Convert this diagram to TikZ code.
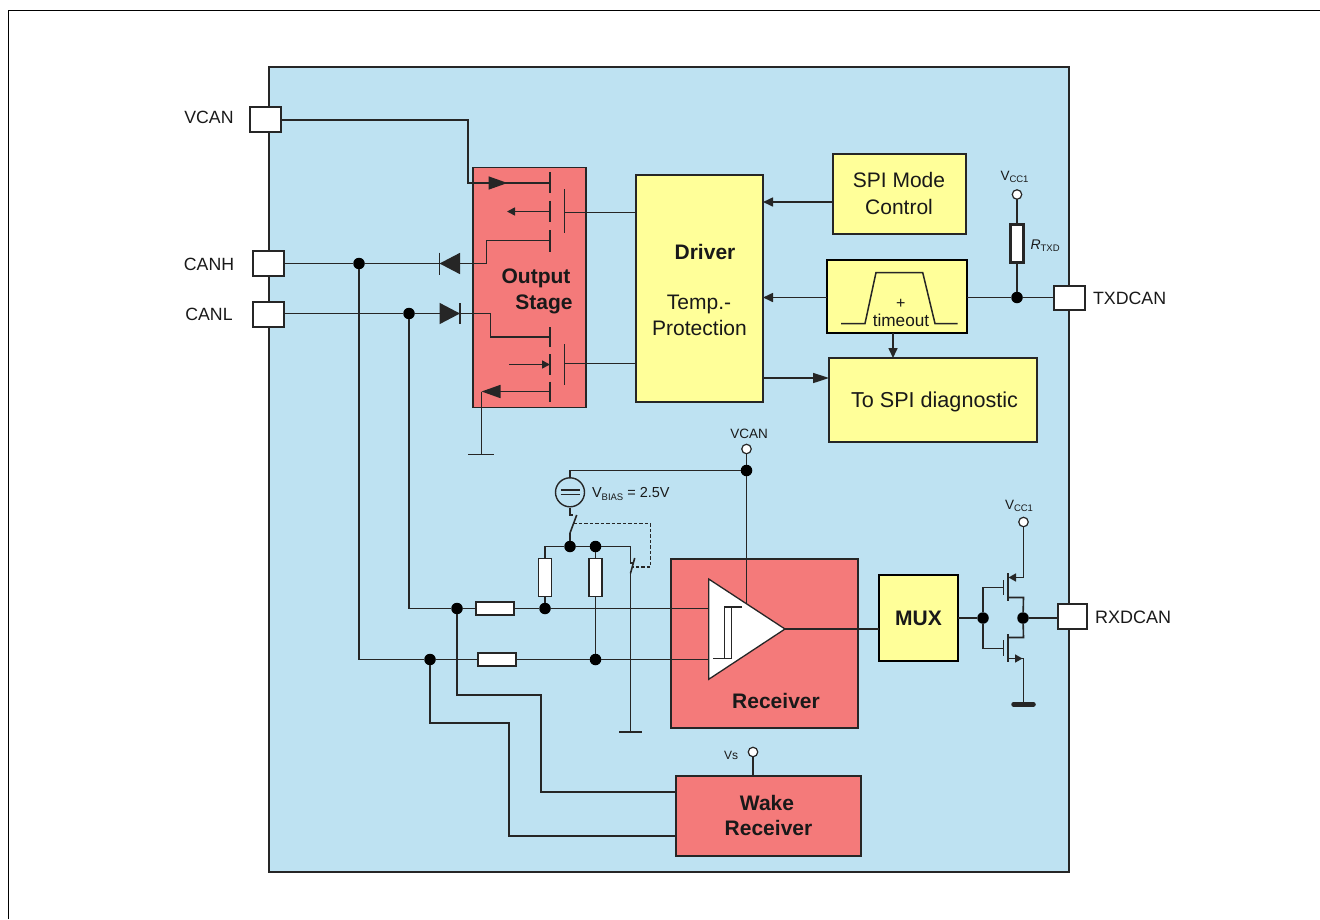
\documentclass[tikz,border=0pt]{standalone}
\usepackage{fontspec}
\setmainfont{Liberation Sans}
\usetikzlibrary{arrows.meta}
\definecolor{bluebg}{HTML}{BEE2F2}
\definecolor{redbox}{HTML}{F47A7A}
\definecolor{yelbox}{HTML}{FFFF99}
\definecolor{ink}{HTML}{262626}
\newcommand{\fs}[1]{\fontsize{#1}{#1}\selectfont}
\newcommand{\lowtxt}[1]{\raisebox{-0.15em}{\fs{9.5}#1}}
\tikzset{
  rectbox/.style={draw=ink,line width=1.3pt,inner sep=0pt,outer sep=0pt,align=center,text=ink},
  redb/.style={rectbox,fill=redbox},
  yelb/.style={rectbox,fill=yelbox},
  heavyb/.style={fill=yelbox,draw=black,line width=2.5pt,inner sep=0pt,outer sep=0pt},
  pinbox/.style={rectbox,fill=white},
  resv/.style={rectbox,fill=white,minimum width=13pt,minimum height=38pt},
  resh/.style={rectbox,fill=white,minimum width=38pt,minimum height=13pt},
  dotn/.style={circle,fill=black,inner sep=0pt,outer sep=0pt,minimum size=11.5pt},
  openn/.style={circle,draw=ink,fill=white,line width=1.2pt,inner sep=0pt,outer sep=0pt,minimum size=9.5pt},
  wire/.style={draw=ink,line width=1.6pt},
  label/.style={text=black!90,inner sep=0pt,outer sep=0pt},
  bigtip/.style={-{Triangle[length=19pt,width=13pt]}},
  diotip/.style={-{Triangle[length=20.5pt,width=21pt]}},
  smalltip/.style={-{Triangle[length=8pt,width=8pt]}},
  midtip/.style={-{Triangle[length=8pt,width=8pt]}}
}
\begin{document}
\begin{tikzpicture}[x=1pt,y=-1pt]
\useasboundingbox (0,0) rectangle (1320,919);
\draw[black,line width=1.3pt] (8.5,919) -- (8.5,10.5) -- (1320,10.5);
\node[rectbox,fill=bluebg,minimum width=800pt,minimum height=805pt] (chip) at (669,469.5) {};

% boxes
\node[redb,line width=1.6pt,minimum width=113.5pt,minimum height=240pt] (out) at (529.5,287.5) {};
\node[yelb,minimum width=127pt,minimum height=227pt] (drv) at (699.5,288.5) {};
\node[yelb,minimum width=133pt,minimum height=80pt] (spi) at (899.5,194) {};
\node[heavyb,minimum width=140pt,minimum height=73pt] (tmo) at (897,296.5) {};
\node[yelb,minimum width=208pt,minimum height=84pt] (diag) at (933,400) {};
\node[redb,minimum width=187pt,minimum height=169pt] (rcv) at (764.5,643.5) {};
\node[heavyb,minimum width=79pt,minimum height=86pt] (mux) at (918.5,618) {};
\node[redb,minimum width=185pt,minimum height=80pt] (wake) at (768.5,816) {};

% pins
\node[pinbox,minimum width=31pt,minimum height=25pt] (pvcan) at (265.5,119.5) {};
\node[pinbox,minimum width=31pt,minimum height=25pt] (pcanh) at (268.5,263.5) {};
\node[pinbox,minimum width=31pt,minimum height=25pt] (pcanl) at (268.5,314.5) {};
\node[pinbox,minimum width=31pt,minimum height=24pt] (ptxd) at (1069.5,298) {};
\node[pinbox,minimum width=29pt,minimum height=25pt] (prxd) at (1072.5,616.5) {};

% junctions, terminals
\node[dotn] (jh) at (359,263.5) {};
\node[dotn] (jl) at (409,313.5) {};
\node[dotn] (ju) at (457,608.5) {};
\node[dotn] (jd) at (430,659.5) {};
\node[dotn] (jr1) at (545,608.5) {};
\node[dotn] (jr2) at (595.5,659.5) {};
\node[dotn] (jb1) at (570,546.5) {};
\node[dotn] (jb2) at (595.5,546.5) {};
\node[dotn] (jv) at (746.5,470.5) {};
\node[dotn] (jt) at (1017,297.5) {};
\node[dotn] (jg) at (983,618) {};
\node[dotn] (jo) at (1023,618) {};
\node[openn] (ovcan) at (746.5,449) {};
\node[openn] (ovcc) at (1017,194.5) {};
\node[openn] (ovcc2) at (1023.5,522) {};
\node[openn] (ovs) at (753,752) {};
\node[circle,draw=ink,fill=none,line width=1.4pt,inner sep=0pt,minimum size=29pt] (bias) at (570,492.3) {};

% free ends
\coordinate (a1) at (468,120);
\coordinate (a2) at (468,183);
\coordinate (a3) at (507.5,183);
\coordinate (t1) at (550,183);
\coordinate (t2) at (550,211.5);
\coordinate (a4) at (507,211.5);
\coordinate (t3) at (550,240.5);
\coordinate (g1) at (564.5,212.5);
\coordinate (g2) at (564.5,363.5);
\coordinate (t4) at (550,337);
\coordinate (t5) at (550,364.5);
\coordinate (a5) at (509,364.5);
\coordinate (t6) at (550,391.5);
\coordinate (a6) at (481.5,391.5);
\coordinate (gnd1) at (481.5,454.5);

% top connections
\draw[wire] (pvcan.east |- a1) -- (a1) -- (a2) -- (t1);
\draw[wire,bigtip] (a2) ++(20,0) -- (a3);
\draw[wire,smalltip] (t2) -- (a4);
\draw[wire] (pcanh.east |- jh) -- (jh) -- (439.5,263.5);
\draw[wire] (t3) -- (486.5,240.5) -- (486.5,263.5) -- (460,263.5);
\draw[wire,diotip] (460,263.5) -- (439.5,263.5);
\draw[wire] (439.5,252.5) -- (439.5,274.5);
\draw[wire] (pcanl.east |- jl) -- (jl) -- (439.5,313.5);
\draw[wire,diotip] (439.5,313.5) -- (460,313.5);
\draw[wire] (460,303) -- (460,324);
\draw[wire] (460,313.5) -- (490.5,313.5) -- (490.5,337) -- (t4);
\draw[wire,midtip] (a5) -- (t5);
\draw[wire,bigtip] (t6) -- (a6);
\draw[wire] (a6) -- (gnd1);
\draw[wire] (468,454.5) -- (494,454.5);
\foreach \ya/\yb in {172/193,200.7/222,230/251.7,327/347,354/375,381.7/401.7}
  \draw[wire] (550,\ya) -- (550,\yb);
\draw[wire] (564.5,189) -- (564.5,233);
\draw[wire] (564.5,344) -- (564.5,385);
\draw[wire] (g1) -- (drv.west |- g1);
\draw[wire] (g2) -- (drv.west |- g2);

% right top connections
\coordinate (sp) at (833,202);
\coordinate (dg) at (893,333);
\draw[wire,-{Triangle[length=10pt,width=9pt]}] (sp) -- (drv.east |- sp);
\draw[wire,-{Triangle[length=10pt,width=9pt]}] (tmo.west |- jt) -- (drv.east |- jt);
\draw[wire] (tmo.east |- jt) -- (jt) -- (ptxd.west |- jt);
\draw[wire,-{Triangle[length=16pt,width=10pt]}] (drv.east |- 0,378) -- (diag.west |- 0,378);
\draw[wire,-{Triangle[length=10pt,width=9pt]}] (dg) -- (dg |- diag.north);
\node[resv,line width=2.6pt] (rtxd) at (1017,243.7) {};
\draw[wire] (ovcc) -- (rtxd);
\draw[wire] (rtxd) -- (jt);
\draw[ink,line width=1.5pt] (841,323.5) -- (865,323.5) -- (876,272.5) -- (922.7,272.5) -- (935,323.5) -- (957.7,323.5);

% receiver inputs
\node[resv] (r1) at (545,577.7) {};
\node[resv] (r2) at (595.5,577.7) {};
\node[resh] (r3) at (495,608.5) {};
\node[resh] (r4) at (497,659.5) {};
\coordinate (inu) at (709,608.5);
\coordinate (ind) at (709,659.5);
\draw[wire] (jh) -- (359,659.5) -- (jd);
\draw[wire] (jd) -- (r4);
\draw[wire] (r4) -- (jr2) -- (ind);
\draw[wire] (jl) -- (409,608.5) -- (ju);
\draw[wire] (ju) -- (r3);
\draw[wire] (r3) -- (jr1) -- (inu);
\draw[wire] (ovcan) -- (jv);
\draw[wire] (jv) -- (746.5,604);
\draw[wire] (jv) -- (570,470.5) -- (bias);
\draw[wire] (bias) -- (570,515) -- (572.7,515);
\draw[wire] (570,533) -- (576.7,515);
\draw[wire] (570,533) -- (jb1);
\draw[wire] (jb1) -- (jb2);
\draw[wire] (545,558.7) -- (545,546.5) -- (jb1);
\draw[wire] (jb2) -- (630.5,546.5) -- (630.5,563) -- (634,563);
\draw[wire] (630.5,573.3) -- (634.7,558);
\draw[wire] (630.5,573.3) -- (630.5,732);
\draw[wire] (619.3,732) -- (642.3,732);
\draw[wire] (r1) -- (jr1);
\draw[wire] (jb2) -- (r2);
\draw[wire] (r2) -- (jr2);
\draw[ink,line width=1.4pt,dash pattern=on 3.5pt off 2pt] (573.3,523.5) -- (650.5,523.5) -- (650.5,567) -- (632.7,567);
\draw[ink,line width=1.4pt] (560.7,490) -- (579.7,490) (560.7,494.5) -- (579.7,494.5);

% comparator
\node[inner sep=0pt,outer sep=0pt] (tip) at (785,629) {};
\path[draw=ink,fill=white,line width=1.3pt] (708.7,579) -- (tip.center) -- (708.7,679.3) -- cycle;
\draw[ink,line width=1.3pt] (742,607) -- (724.5,607) -- (724.5,659);
\draw[ink,line width=1.3pt] (731.5,607) -- (731.5,658.7) -- (713,658.7);
\draw[wire] (tip.center) -- (mux.west |- tip);

% wake wires
\draw[wire] (ju) -- (457,695) -- (541,695) -- (541,792) -- (wake.west |- 0,792);
\draw[wire] (jd) -- (430,723) -- (509,723) -- (509,836) -- (wake.west |- 0,836);
\draw[wire] (ovs) -- (ovs |- wake.north);

% output CMOS
\draw[wire] (mux.east |- jg) -- (jg);
\draw[wire] (jo) -- (prxd.west |- jo);
\draw[wire] (jg) -- (983,587.5) -- (1003.5,587.5);
\draw[wire] (jg) -- (983,648.5) -- (1003.5,648.5);
\draw[wire] (1003.5,580) -- (1003.5,595);
\draw[wire] (1003.5,640) -- (1003.5,655.7);
\draw[wire] (1008,573.3) -- (1008,601.3);
\draw[wire] (1008,634) -- (1008,661.7);
\draw[wire] (ovcc2) -- (1023.5,577.5) -- (1016,577.5);
\draw[wire,-{Triangle[length=7.5pt,width=8pt]}] (1016,577.5) -- (1008.5,577.5);
\draw[wire] (1008,597.5) -- (1023.5,597.5) -- (jo);
\draw[wire] (jo) -- (1023.5,637.5) -- (1008,637.5);
\draw[wire,-{Triangle[length=7.5pt,width=8pt]}] (1008,658.5) -- (1022.5,658.5);
\draw[wire] (1015,658.5) -- (1023.5,658.5) -- (1023.5,704.3);
\draw[ink,line width=4.5pt,line cap=round] (1013.5,704.3) -- (1033.5,704.3);

% texts
\node[label,font=\fs{17.7}] (lvcan) at (209,117) {VCAN};
\node[label,font=\fs{17.7}] (lcanh) at (209,264) {CANH};
\node[label,font=\fs{17.7}] (lcanl) at (209,314) {CANL};
\node[label,font=\fs{17.8},anchor=west] (ltxd) at (1093,298) {TXDCAN};
\node[label,font=\fs{18},anchor=west] (lrxd) at (1095,617) {RXDCAN};
\node[label,font=\bfseries\fs{21}] (tout) at (536,278.5) {Output};
\node[label,font=\bfseries\fs{21}] (tstg) at (544,304.5) {Stage};
\node[label,font=\bfseries\fs{21}] (tdrv) at (705,252) {Driver};
\node[label,font=\fs{21}] (ttmp) at (699,304.5) {Temp.-};
\node[label,font=\fs{21}] (tpro) at (699.5,328) {Protection};
\node[label,font=\fs{21}] (tspi) at (899,180) {SPI Mode};
\node[label,font=\fs{21}] (tctl) at (899,207) {Control};
\node[label,font=\fs{21.6}] (tdiag) at (934.5,401.5) {To SPI diagnostic};
\node[label,font=\fs{16}] (tplus) at (900.7,304) {+};
\node[label,font=\fs{17.2}] (ttime) at (901,320) {timeout};
\node[label,font=\bfseries\fs{21}] (trcv) at (776,701) {Receiver};
\node[label,font=\bfseries\fs{21}] (tmux) at (918.5,618) {MUX};
\node[label,font=\bfseries\fs{21}] (twk) at (767,803) {Wake};
\node[label,font=\bfseries\fs{21}] (twr) at (768.5,828) {Receiver};
\node[label,font=\fs{13.5}] (lv1) at (749,433.5) {VCAN};
\node[label,font=\fs{14.5},anchor=west] (lvb) at (592,494) {V\lowtxt{BIAS} = 2.5V};
\node[label,font=\fs{13.5}] (lvc1) at (1014.5,176.5) {V\lowtxt{CC1}};
\node[label,font=\fs{13.5}] (lvc2) at (1019,505.5) {V\lowtxt{CC1}};
\node[label,font=\fs{14},anchor=west] (lr) at (1030.5,246) {\textit{R}\lowtxt{TXD}};
\node[label,font=\fs{12}] (lvs) at (731,755) {Vs};
\end{tikzpicture}
\end{document}
